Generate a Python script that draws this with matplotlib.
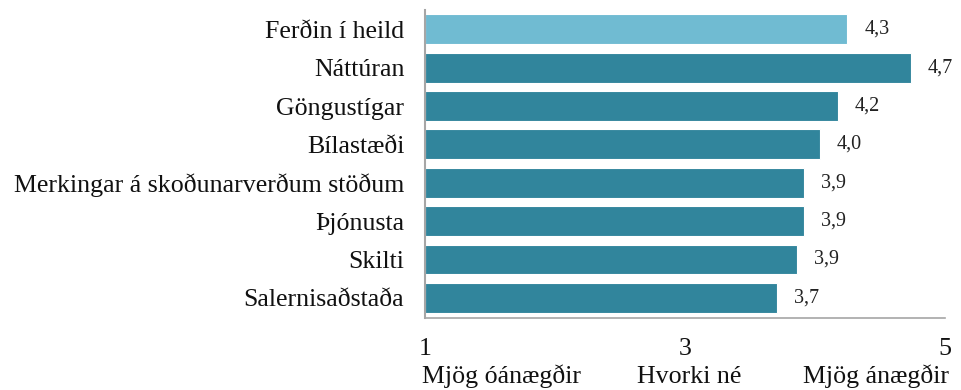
import matplotlib
matplotlib.use("Agg")
import matplotlib.pyplot as plt

categories = [
    "Ferðin í heild",
    "Náttúran",
    "Göngustígar",
    "Bílastæði",
    "Merkingar á skoðunarverðum stöðum",
    "Þjónusta",
    "Skilti",
    "Salernisaðstaða",
]
values = [4.25, 4.74, 4.18, 4.04, 3.92, 3.92, 3.86, 3.71]
value_labels = ["4,3", "4,7", "4,2", "4,0", "3,9", "3,9", "3,9", "3,7"]
tick_values = [1, 3, 5]
tick_numbers = ["1", "3", "5"]
tick_words = ["Mjög óánægðir", "Hvorki né", "Mjög ánægðir"]

colors = ["#70BBD2"] + ["#31859C"] * (len(categories) - 1)

plt.rcParams["font.family"] = ["Liberation Serif", "DejaVu Serif"]

fig = plt.figure(figsize=(9.62, 3.90), dpi=100)
ax = fig.add_axes([0.442, 0.185, 0.54, 0.789])

y = list(range(len(categories)))
ax.barh(y, [v - 1 for v in values], left=1, height=0.78, color=colors,
        edgecolor="white", linewidth=0.8)

for yi, v, lab in zip(y, values, value_labels):
    ax.text(v + 0.13, yi, lab, va="center", ha="left", fontsize=14.5, color="#222222")

ax.set_xlim(1, 5)
ax.set_ylim(len(categories) - 0.48, -0.5)
ax.set_yticks(y)
ax.set_yticklabels(categories, fontsize=18.6, color="#111111")
ax.tick_params(axis="y", length=0, pad=15)

# scale labels under the axis: number on top, description below
ax.set_xticks([])
for xv, num, word, ha in zip(tick_values, tick_numbers, tick_words,
                             ["left", "center", "right"]):
    ax.annotate(num, xy=(xv, 0), xycoords=("data", "axes fraction"),
                xytext=(0, -27), textcoords="offset points",
                ha="center", va="baseline", fontsize=18.6, color="#111111")
    ax.annotate(word, xy=(xv, 0), xycoords=("data", "axes fraction"),
                xytext=({"left": -2, "center": 3, "right": 3}[ha], -47),
                textcoords="offset points",
                ha=ha, va="baseline", fontsize=18.6, color="#111111")

for side in ["top", "right"]:
    ax.spines[side].set_visible(False)
ax.spines["left"].set_color("#A6A6A6")
ax.spines["left"].set_linewidth(1.5)
ax.spines["bottom"].set_color("#A6A6A6")
ax.spines["bottom"].set_linewidth(1.2)

fig.savefig("out.png", dpi=100, facecolor="white")
